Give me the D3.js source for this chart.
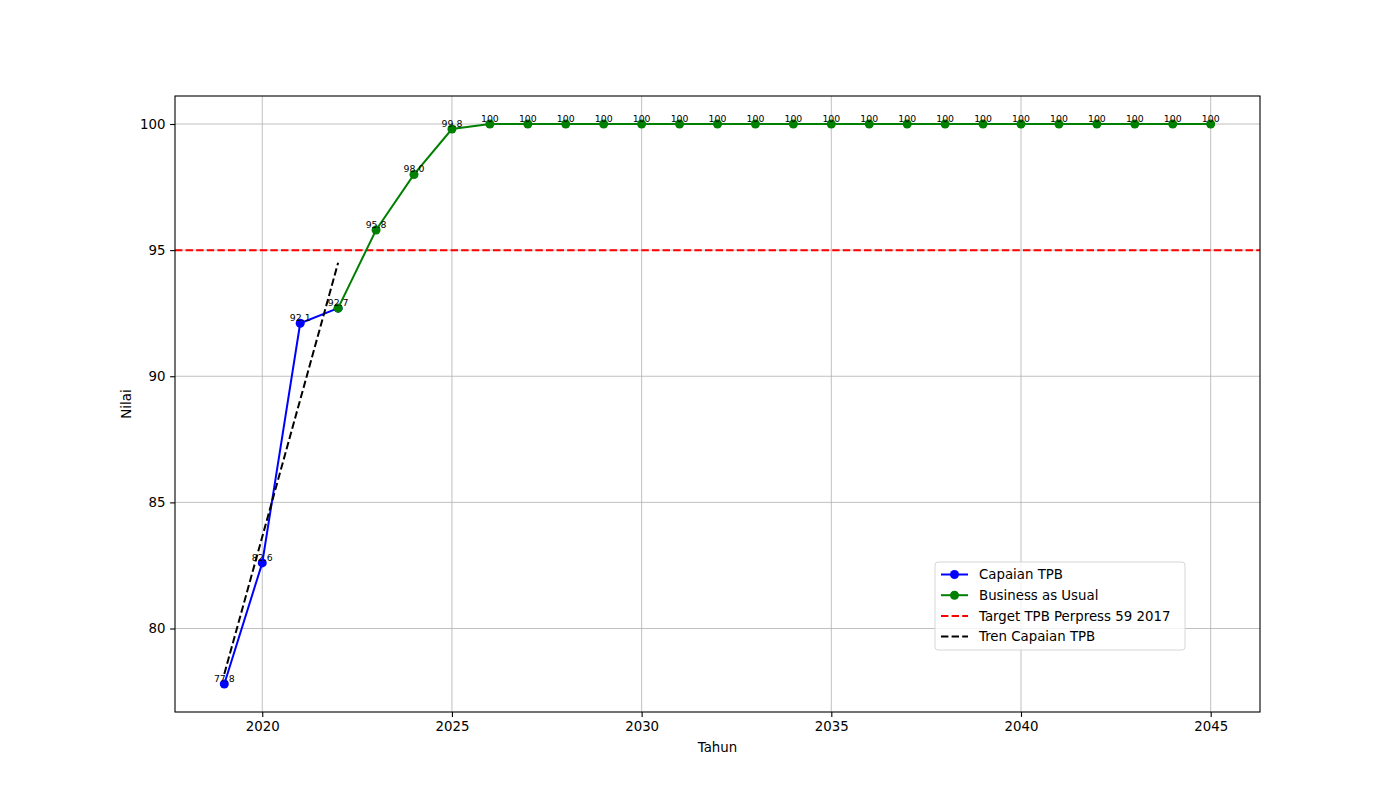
<!DOCTYPE html>
<html>
<head>
<meta charset="utf-8">
<script src="https://cdn.jsdelivr.net/npm/d3@7"></script>
<style>
  body { margin: 0; background: #fff; }
  text { font-family: "DejaVu Sans", sans-serif; }
</style>
</head>
<body>
<svg id="chart" width="1400" height="800"></svg>
<script>
// data
var capaianYears = [2019, 2020, 2021, 2022];
var capaianValues = [77.8, 82.6, 92.1, 92.7];

var bauYears = [2022, 2023, 2024, 2025, 2026, 2027, 2028, 2029, 2030, 2031, 2032, 2033,
  2034, 2035, 2036, 2037, 2038, 2039, 2040, 2041, 2042, 2043, 2044, 2045];
var bauValues = [92.7, 95.8, 98.0, 99.8, 100, 100, 100, 100, 100, 100, 100, 100,
  100, 100, 100, 100, 100, 100, 100, 100, 100, 100, 100, 100];

var trendYears = [2019, 2022];
var trendValues = [78.2, 94.5];

var targetValue = 95;

var xTicks = [2020, 2025, 2030, 2035, 2040, 2045];
var yTicks = [80, 85, 90, 95, 100];

var seriesNames = ["Capaian TPB", "Business as Usual", "Target TPB Perpress 59 2017", "Tren Capaian TPB"];

var svg = d3.select("#chart"),
    margin = { top: 96, right: 140, bottom: 88, left: 175 },
    width = 1400 - margin.left - margin.right,
    height = 800 - margin.top - margin.bottom,
    g = svg.append("g").attr("transform", "translate(" + margin.left + "," + margin.top + ")");

var x = d3.scaleLinear().domain([2017.7, 2046.3]).range([0, width]);
var y = d3.scaleLinear().domain([76.69, 101.11]).range([height, 0]);

// grid
g.append("g").selectAll("line").data(xTicks).enter().append("line")
    .attr("x1", x).attr("x2", x).attr("y1", 0).attr("y2", height)
    .attr("stroke", "#b0b0b0").attr("stroke-width", 0.8);
g.append("g").selectAll("line").data(yTicks).enter().append("line")
    .attr("y1", y).attr("y2", y).attr("x1", 0).attr("x2", width)
    .attr("stroke", "#b0b0b0").attr("stroke-width", 0.8);

// axes
var xAxis = g.append("g")
    .attr("transform", "translate(0," + height + ")")
    .call(d3.axisBottom(x).tickValues(xTicks).tickFormat(d3.format("d")).tickSize(4.9).tickPadding(4.7));
var yAxis = g.append("g")
    .call(d3.axisLeft(y).tickValues(yTicks).tickSize(4.9).tickPadding(4.7));
[xAxis, yAxis].forEach(function (a) {
    a.select(".domain").remove();
    a.selectAll("text").attr("font-size", "13.33px").attr("fill", "#000")
        .attr("font-family", "DejaVu Sans, sans-serif");
    a.selectAll("line").attr("stroke", "#000").attr("stroke-width", 1.1);
});

var line = d3.line()
    .x(function (d) { return x(d[0]); })
    .y(function (d) { return y(d[1]); });

var capaian = d3.zip(capaianYears, capaianValues),
    bau = d3.zip(bauYears, bauValues),
    trend = d3.zip(trendYears, trendValues);

// target line
g.append("line")
    .attr("x1", 0).attr("x2", width)
    .attr("y1", y(targetValue)).attr("y2", y(targetValue))
    .attr("stroke", "red").attr("stroke-width", 2).attr("stroke-dasharray", "7.4,3.2");

// capaian
g.append("path").datum(capaian).attr("d", line)
    .attr("fill", "none").attr("stroke", "blue").attr("stroke-width", 2);
g.append("g").selectAll("circle").data(capaian).enter().append("circle")
    .attr("cx", function (d) { return x(d[0]); })
    .attr("cy", function (d) { return y(d[1]); })
    .attr("r", 4.5).attr("fill", "blue");

// business as usual
g.append("path").datum(bau).attr("d", line)
    .attr("fill", "none").attr("stroke", "green").attr("stroke-width", 2);
g.append("g").selectAll("circle").data(bau).enter().append("circle")
    .attr("cx", function (d) { return x(d[0]); })
    .attr("cy", function (d) { return y(d[1]); })
    .attr("r", 4.5).attr("fill", "green");

// trend
g.append("path").datum(trend).attr("d", line)
    .attr("fill", "none").attr("stroke", "#000").attr("stroke-width", 2).attr("stroke-dasharray", "7.4,3.2");

// point labels
var fmt = function (v) { return v === 100 ? "100" : v.toFixed(1); };
var labelData = capaian.slice(0, 3).concat(bau);
g.append("g").selectAll("text").data(labelData).enter().append("text")
    .attr("x", function (d) { return x(d[0]); })
    .attr("y", function (d) { return y(d[1]) - 2; })
    .attr("text-anchor", "middle")
    .attr("font-size", "9.33px")
    .attr("fill", "#000")
    .text(function (d) { return fmt(d[1]); });

// frame
g.append("rect").attr("width", width).attr("height", height)
    .attr("fill", "none").attr("stroke", "#000").attr("stroke-width", 1.1);

// axis titles
svg.append("text").attr("x", margin.left + width / 2).attr("y", 752)
    .attr("text-anchor", "middle").attr("font-size", "13.33px").text("Tahun");
svg.append("text").attr("transform", "translate(131," + (margin.top + height / 2) + ")rotate(-90)")
    .attr("text-anchor", "middle").attr("font-size", "13.33px").text("Nilai");

// legend
var legend = svg.append("g").attr("transform", "translate(935,562)");
legend.append("rect").attr("width", 250).attr("height", 88).attr("rx", 3)
    .attr("fill", "#fff").attr("fill-opacity", 0.8).attr("stroke", "#d6d6d6");
var legendColors = ["blue", "green", "red", "#000"];
var tags = legend.selectAll("g.tag").data(seriesNames).enter().append("g")
    .attr("class", "tag")
    .attr("transform", function (d, i) { return "translate(0," + (12.5 + i * 20.7) + ")"; });
tags.append("line").attr("x1", 6).attr("x2", 33)
    .attr("stroke", function (d, i) { return legendColors[i]; })
    .attr("stroke-width", 2)
    .attr("stroke-dasharray", function (d, i) { return i >= 2 ? "7.4,3.2" : null; });
tags.filter(function (d, i) { return i < 2; }).append("circle")
    .attr("cx", 19.5).attr("r", 4.5)
    .attr("fill", function (d, i) { return legendColors[i]; });
tags.append("text").attr("x", 44).attr("dy", "0.35em")
    .attr("font-size", "13.33px").text(function (d) { return d; });
</script>
</body>
</html>
